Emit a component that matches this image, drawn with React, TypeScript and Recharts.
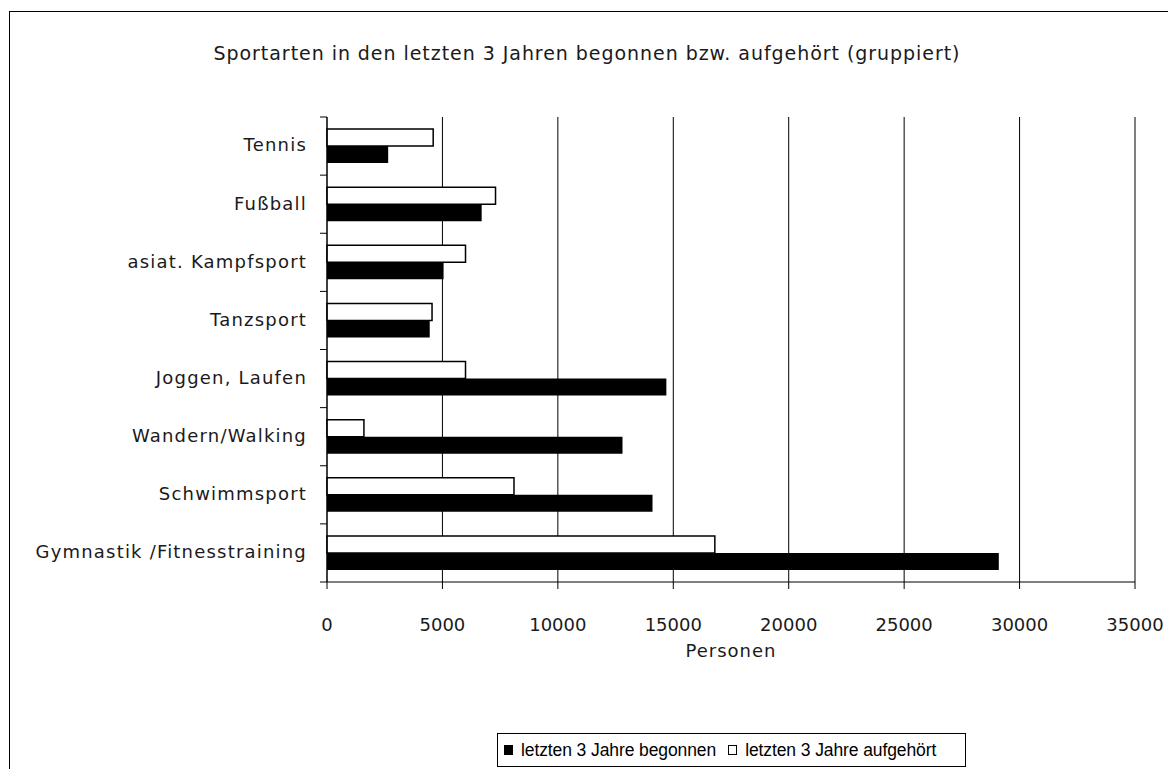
import { BarChart, Bar, XAxis, YAxis, CartesianGrid, Legend } from 'recharts';

const categories = [
  'Tennis',
  'Fußball',
  'asiat. Kampfsport',
  'Tanzsport',
  'Joggen, Laufen',
  'Wandern/Walking',
  'Schwimmsport',
  'Gymnastik /Fitnesstraining',
];
const begonnen = [2650, 6700, 5050, 4450, 14700, 12800, 14100, 29100];
const aufgehoert = [4600, 7300, 6000, 4550, 6000, 1600, 8100, 16800];
const xTicks = [0, 5000, 10000, 15000, 20000, 25000, 30000, 35000];

const data = categories.map((name, i) => ({
  name,
  begonnen: begonnen[i],
  aufgehoert: aufgehoert[i],
}));

const W = 1168;
const H = 761;
const margin = { top: 109, right: 41, left: 0, bottom: 63 };
const X_AXIS_H = 90;
const LEGEND_H = 34;
const PLOT_H = H - margin.top - margin.bottom - X_AXIS_H - LEGEND_H;
const BAND = PLOT_H / categories.length;
const FONT = '"DejaVu Sans", sans-serif';
const TEXT = '#1a1a1a';

function CategoryTick(props: any) {
  const { x, y, payload, index } = props;
  const axisX = x + 20;
  const last = index === categories.length - 1;
  return (
    <g>
      <line x1={axisX - 7} x2={axisX} y1={y - BAND / 2} y2={y - BAND / 2} stroke="#000" />
      {last && <line x1={axisX - 7} x2={axisX} y1={y + BAND / 2} y2={y + BAND / 2} stroke="#000" />}
      <text
        x={x}
        y={y}
        dy="0.3em"
        textAnchor="end"
        fontSize={18}
        fontFamily={FONT}
        letterSpacing={1.2}
        fill={TEXT}
      >
        {payload.value}
      </text>
    </g>
  );
}

function LegendBox() {
  const item = (fill: string, text: string, gapAfter: number) => (
    <span style={{ display: 'inline-flex', alignItems: 'center', marginRight: gapAfter }}>
      <span
        style={{
          boxSizing: 'border-box',
          display: 'inline-block',
          width: 9,
          height: 10,
          background: fill,
          border: '1.5px solid #000',
          marginRight: 8,
        }}
      />
      {text}
    </span>
  );
  return (
    <div
      style={{
        boxSizing: 'border-box',
        height: LEGEND_H,
        border: '1px solid #000',
        display: 'flex',
        alignItems: 'center',
        justifyContent: 'flex-start',
        paddingLeft: 6,
        fontFamily: '"Liberation Sans", Arial, sans-serif',
        fontSize: 17.5,
        letterSpacing: -0.1,
        whiteSpace: 'nowrap',
        color: '#000',
        background: '#fff',
      }}
    >
      {item('#000', 'letzten 3 Jahre begonnen', 12)}
      {item('#fff', 'letzten 3 Jahre aufgehört', 0)}
    </div>
  );
}

export default function App() {
  return (
    <div style={{ position: 'relative', width: W, height: H, overflow: 'hidden', background: '#fff' }}>
      <div
        style={{
          position: 'absolute',
          left: 1,
          top: 3,
          width: 1200,
          height: 800,
          border: '1.5px solid #000',
        }}
      />
      <div
        style={{
          position: 'absolute',
          left: 0,
          top: 36,
          width: 1158,
          textAlign: 'center',
          fontFamily: FONT,
          fontSize: 19,
          letterSpacing: 0.95,
          lineHeight: 1,
          color: TEXT,
        }}
      >
        Sportarten in den letzten 3 Jahren begonnen bzw. aufgehört (gruppiert)
      </div>
      <BarChart
        width={W}
        height={H}
        data={data}
        layout="vertical"
        margin={margin}
        barSize={17}
        barGap={0}
        style={{ position: 'absolute', left: 0, top: 0 }}
      >
        <CartesianGrid horizontal={false} stroke="#000" strokeWidth={1} />
        <XAxis
          type="number"
          domain={[0, 35000]}
          ticks={xTicks}
          interval={0}
          height={X_AXIS_H}
          tickSize={7}
          tickMargin={29}
          axisLine={{ stroke: '#000' }}
          tickLine={{ stroke: '#000' }}
          tick={{ fill: TEXT, fontSize: 18, fontFamily: FONT }}
          label={{
            value: 'Personen',
            position: 'insideBottom',
            offset: 15,
            fill: TEXT,
            fontSize: 18,
            fontFamily: FONT,
            letterSpacing: 1,
          }}
        />
        <XAxis
          xAxisId="top"
          orientation="top"
          type="number"
          domain={[0, 35000]}
          height={0}
          tick={false}
          tickLine={false}
          axisLine={{ stroke: '#000' }}
        />
        <YAxis
          type="category"
          dataKey="name"
          width={319}
          tickSize={7}
          tickMargin={13}
          interval={0}
          tickLine={false}
          axisLine={{ stroke: '#000' }}
          tick={<CategoryTick />}
        />
        <Legend
          verticalAlign="bottom"
          content={<LegendBox />}
          wrapperStyle={{ left: 489, top: 725, width: 469, height: LEGEND_H }}
        />
        <Bar
          dataKey="aufgehoert"
          name="letzten 3 Jahre aufgehört"
          fill="#fff"
          stroke="#000"
          strokeWidth={1.5}
          isAnimationActive={false}
        />
        <Bar
          dataKey="begonnen"
          name="letzten 3 Jahre begonnen"
          fill="#000"
          isAnimationActive={false}
        />
      </BarChart>
    </div>
  );
}
